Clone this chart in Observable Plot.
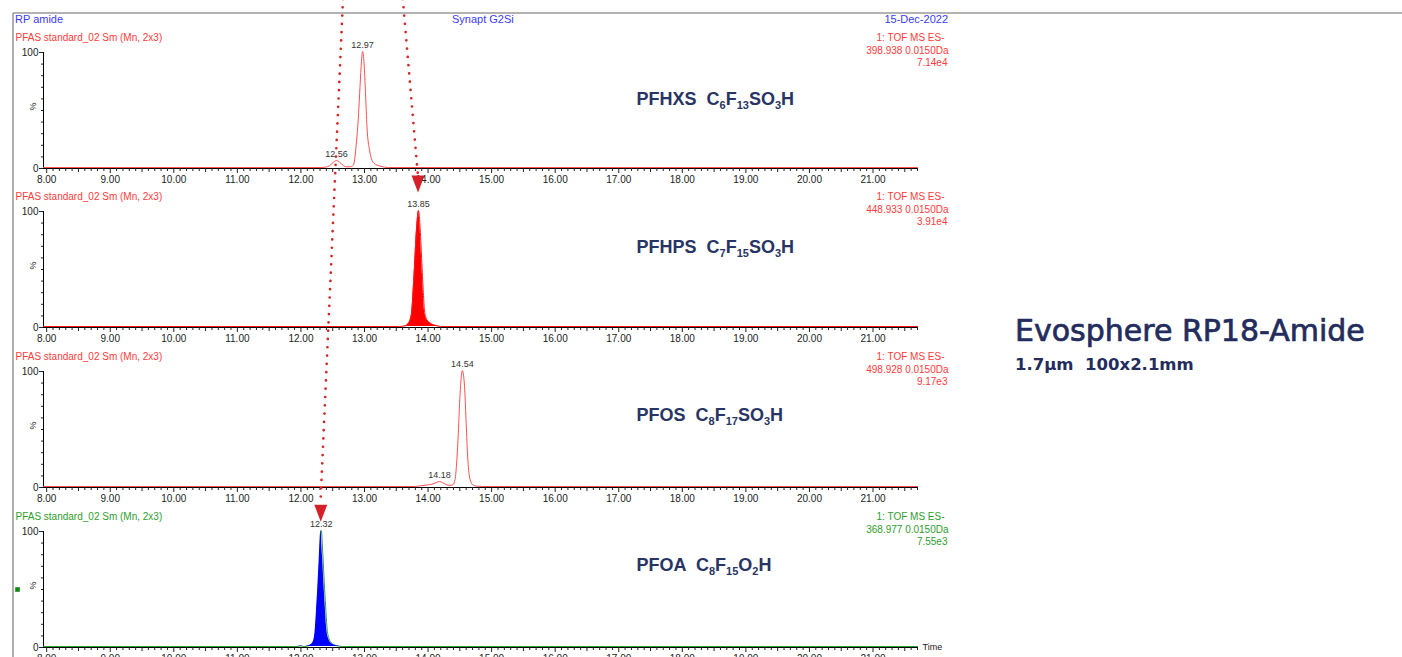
<!DOCTYPE html>
<html><head><meta charset="utf-8">
<script src="https://cdn.jsdelivr.net/npm/d3@7"></script>
<script src="https://cdn.jsdelivr.net/npm/@observablehq/plot@0.6"></script>
<style>
html,body{margin:0;padding:0;background:#fff;}
#root{position:relative;width:1402px;height:657px;overflow:hidden;font-family:"Liberation Sans",Arial,sans-serif;}
.abs{position:absolute;white-space:pre;}
</style></head><body><div id="root"></div>
<script>
// ---------- data ----------
const timeDomain = [7.95, 21.70];
const majorTicks = [8, 9, 10, 11, 12, 13, 14, 15, 16, 17, 18, 19, 20, 21];
const pctTicks = [0, 100];

const compoundNames = ["PFHXS", "PFHPS", "PFOS", "PFOA"];
const compoundFormulas = ["C6F13SO3H", "C7F15SO3H", "C8F17SO3H", "C8F15O2H"];
const compoundLabelTime = 17.28;
const compoundLabelLevel = [59.9, 69, 62.1, 70.7];
const sampleHeader = "PFAS standard_02 Sm (Mn, 2x3)";
const channelText = ["1: TOF MS ES-", "1: TOF MS ES-", "1: TOF MS ES-", "1: TOF MS ES-"];
const massWindows = ["398.938 0.0150Da", "448.933 0.0150Da", "498.928 0.0150Da", "368.977 0.0150Da"];
const intensityText = ["7.14e4", "3.91e4", "9.17e3", "7.55e3"];

// PFHXS trace (% of 7.14e4)
const pfhxsTime = [7.95, 12.30, 12.38, 12.45, 12.51, 12.56, 12.61, 12.67, 12.72, 12.77, 12.80, 12.826, 12.867, 12.901, 12.924, 12.947, 12.97, 12.993, 13.016, 13.039, 13.079, 13.143, 13.258, 13.38, 21.70];
const pfhxsPct  = [0, 0, 0.2, 1.5, 4.5, 6, 4.5, 1.5, 0.5, 0.6, 1, 2, 18, 41, 64, 87, 100, 90, 64, 35, 15, 4, 1, 0, 0];
// PFHPS trace (% of 3.91e4)
const pfhpsTime = [7.95, 13.55, 13.64, 13.68, 13.72, 13.745, 13.766, 13.787, 13.808, 13.83, 13.85, 13.876, 13.902, 13.923, 13.944, 13.981, 14.033, 14.11, 14.20, 21.70];
const pfhpsPct  = [0, 0, 0.5, 2, 6, 14, 32, 52, 75, 92, 100, 84, 55, 32, 14, 6, 3, 1, 0, 0];
// PFOS trace (% of 9.17e3)
const pfosTime = [7.95, 13.78, 13.88, 13.98, 14.06, 14.12, 14.18, 14.23, 14.28, 14.34, 14.39, 14.4245, 14.453, 14.476, 14.499, 14.54, 14.574, 14.597, 14.62, 14.65, 14.702, 14.76, 14.86, 21.70];
const pfosPct  = [0, 0, 0.6, 1.3, 2, 3.2, 4.3, 3.3, 1.8, 1, 1.5, 6, 23, 46, 75, 100, 86, 58, 29, 9, 1.5, 0.3, 0, 0];
// PFOA trace (% of 7.55e3)
const pfoaTime = [7.95, 11.95, 12.00, 12.05, 12.11, 12.163, 12.20, 12.231, 12.252, 12.273, 12.294, 12.32, 12.346, 12.367, 12.388, 12.409, 12.44, 12.493, 12.556, 12.65, 21.70];
const pfoaPct  = [0, 0, 0.5, 0, 0.5, 1.5, 4, 14, 32, 52, 75, 100, 78, 55, 35, 17, 7, 2.3, 0.8, 0, 0];

const peakTimes = [[12.56, 12.97], [13.85], [14.18, 14.54], [12.32]];
const peakPct   = [[6, 100], [100], [4.3, 100], [100]];

// annotation arrows (dotted)
const arrowFromTime = [13.61, 12.67];
const arrowToTime = [13.85, 12.32];
const arrowPanel = [1, 3];
const arrowTipLevel = [116, 108];

// ---------- styles ----------
const lineColors = ["#ff4f4f", "#ff1a1a", "#ff4f4f", "#2ca02c"];
const fillColors = [null, "#ff0000", null, "#0000ff"];
const headerColors = ["#ff3b3b", "#ff3b3b", "#ff3b3b", "#2e9e2e"];
const tops = [22, 181, 341, 501];
const W = 960, H = 160, ML = 43, MR = 43, MT = 30, MB = 14;
const FONT = "'Liberation Sans', Arial, sans-serif";

const traces = [
  [pfhxsTime, pfhxsPct], [pfhpsTime, pfhpsPct], [pfosTime, pfosPct], [pfoaTime, pfoaPct]
];
const minorAll = d3.range(80, 218).map(d => d / 10);
const halfTicks = minorAll.filter(d => Math.abs(d * 2 - Math.round(d * 2)) < 1e-9 && Math.abs(d - Math.round(d)) > 1e-9);
const minorTicks = minorAll.filter(d => Math.abs(d * 2 - Math.round(d * 2)) > 1e-9);
const pctMinor = d3.range(0, 101, 10);

const root = document.getElementById("root");
const charts = [];

traces.forEach(([T, V], i) => {
  const data = T.map((t, k) => ({t, v: V[k]}));
  const peaks = peakTimes[i].map((t, k) => ({t, v: peakPct[i][k], label: t.toFixed(2)}));
  const label = compoundNames[i] + "  " + compoundFormulas[i];
  const marks = [];
  marks.push(Plot.ruleY([0], {stroke: "#000", strokeWidth: 1}));
  marks.push(Plot.ruleX([timeDomain[0]], {y1: 0, y2: 100, stroke: "#000"}));
  marks.push(Plot.axisX({ticks: majorTicks, tickFormat: d => d.toFixed(2), tickSize: 5, tickPadding: 2, label: null, fontSize: 10}));
  marks.push(Plot.axisX({ticks: halfTicks, tickFormat: () => "", tickSize: 4, label: null}));
  marks.push(Plot.axisX({ticks: minorTicks, tickFormat: () => "", tickSize: 3, label: null}));
  marks.push(Plot.axisY({ticks: pctTicks, tickSize: 4, tickPadding: 1, label: null, fontSize: 10}));
  marks.push(Plot.axisY({ticks: pctMinor, tickFormat: () => "", tickSize: 2, label: null}));
  if (fillColors[i] && i !== 3) marks.push(Plot.areaY(data, {x: "t", y: "v", fill: fillColors[i], curve: "monotone-x", dy: -1}));
  marks.push(Plot.lineY(data, {x: "t", y: "v", stroke: lineColors[i], strokeWidth: 1, curve: "monotone-x", dy: -1}));
  if (i === 3) marks.push(Plot.areaY(data, {x: "t", y: "v", fill: fillColors[i], curve: "monotone-x", dy: -1, dx: -0.4}));
  marks.push(Plot.text(peaks, {x: "t", y: "v", text: "label", dy: -7, fontSize: 9, fill: "#333"}));
  marks.push(Plot.text(["%"], {frameAnchor: "left", dx: -10, rotate: -90, fontSize: 9, fill: "#222"}));
  marks.push(Plot.text([sampleHeader], {frameAnchor: "top-left", dx: -28, dy: -19, textAnchor: "start", fill: headerColors[i], fontSize: 10}));
  marks.push(Plot.text([channelText[i]], {frameAnchor: "top-right", dx: 27, dy: -19, textAnchor: "end", fill: headerColors[i], fontSize: 10}));
  marks.push(Plot.text([massWindows[i]], {frameAnchor: "top-right", dx: 31, dy: -6, textAnchor: "end", fill: headerColors[i], fontSize: 10}));
  marks.push(Plot.text([intensityText[i]], {frameAnchor: "top-right", dx: 30, dy: 6, textAnchor: "end", fill: headerColors[i], fontSize: 10}));
  marks.push(Plot.text([label], {x: () => compoundLabelTime, y: () => compoundLabelLevel[i], textAnchor: "start", fontSize: 18, fontWeight: "bold", fill: "#283464"}));
  if (i === 3) {
    marks.push(Plot.dot([0], {frameAnchor: "left", dx: -26, symbol: "square", r: 2.6, fill: "#118811", stroke: "none"}));
    marks.push(Plot.text(["Time"], {frameAnchor: "bottom-right", dx: 5, dy: 2, textAnchor: "start", fontSize: 9, fill: "#222"}));
  }
  const chart = Plot.plot({
    width: W, height: H, marginLeft: ML, marginRight: MR, marginTop: MT, marginBottom: MB,
    x: {domain: timeDomain}, y: {domain: [0, 100]},
    style: {fontFamily: FONT, fontSize: "10px", color: "#222", overflow: "visible", background: "transparent"},
    marks
  });
  chart.style.position = "absolute";
  chart.style.left = "0px";
  chart.style.top = tops[i] + "px";
  // subscripts for chemical formulas
  chart.querySelectorAll("text").forEach(el => {
    if (el.textContent === label) {
      el.textContent = "";
      const ns = "http://www.w3.org/2000/svg";
      const parts = [compoundNames[i] + "  "].concat(compoundFormulas[i].match(/\d+|\D+/g));
      let prevSub = false;
      parts.forEach((s, k) => {
        const ts = document.createElementNS(ns, "tspan");
        ts.textContent = s;
        const sub = k > 0 && /^\d+$/.test(s);
        if (sub) { ts.setAttribute("font-size", "11"); ts.setAttribute("dy", "4"); }
        else if (prevSub) ts.setAttribute("dy", "-4");
        prevSub = sub;
        el.appendChild(ts);
      });
    }
  });
  root.appendChild(chart);
  charts.push(chart);
});

// ---------- html texts ----------
function addDiv(text, css) {
  const d = document.createElement("div");
  d.className = "abs";
  d.textContent = text;
  Object.assign(d.style, css);
  root.appendChild(d);
  return d;
}
addDiv("RP amide", {left: "15px", top: "13px", fontSize: "11px", lineHeight: "12px", color: "#3b3bff"});
addDiv("Synapt G2Si", {left: "452px", top: "13px", fontSize: "11px", lineHeight: "12px", color: "#3b3bff"});
addDiv("15-Dec-2022", {right: "454px", top: "13px", fontSize: "11px", lineHeight: "12px", color: "#3b3bff", textAlign: "right"});
const title = addDiv("Evosphere RP18-Amide", {left: "1015px", top: "316px", fontSize: "30px", lineHeight: "30px", color: "#232c5c", fontFamily: "'DejaVu Sans', sans-serif"});
title.style.webkitTextStroke = "0.7px #232c5c";
addDiv("1.7µm  100x2.1mm", {left: "1015px", top: "357px", fontSize: "16.5px", lineHeight: "16px", color: "#232c5c", fontWeight: "bold", fontFamily: "'DejaVu Sans', sans-serif"});

// ---------- overlay: frame & dotted arrows ----------
const overlay = d3.select(root).append("svg")
  .attr("width", 1402).attr("height", 657)
  .style("position", "absolute").style("left", "0px").style("top", "0px")
  .style("pointer-events", "none");
overlay.append("line").attr("x1", 13).attr("y1", 13).attr("x2", 1402).attr("y2", 13)
  .attr("stroke", "#9a9a9a").attr("stroke-width", 1.6);
overlay.append("line").attr("x1", 13).attr("y1", 13).attr("x2", 13).attr("y2", 657)
  .attr("stroke", "#9a9a9a").attr("stroke-width", 1.6);

arrowFromTime.forEach((from, k) => {
  const p = arrowPanel[k];
  const xs = charts[p].scale("x");
  const ys = charts[p].scale("y");
  const x0 = xs.apply(from), x1 = xs.apply(arrowToTime[k]);
  const tipY = tops[p] + ys.apply(arrowTipLevel[k]);
  const triTop = tipY - 17;
  overlay.append("line")
    .attr("x1", x0).attr("y1", -1).attr("x2", x1 - 0.3).attr("y2", triTop - 2)
    .attr("stroke", "#d42424").attr("stroke-width", 2.7)
    .attr("stroke-linecap", "round").attr("stroke-dasharray", "0 8.3");
  overlay.append("path")
    .attr("d", `M${x1 - 6.5},${triTop}L${x1 + 6.5},${triTop}L${x1},${tipY}Z`)
    .attr("fill", "#d42028");
});
</script>
</body></html>
